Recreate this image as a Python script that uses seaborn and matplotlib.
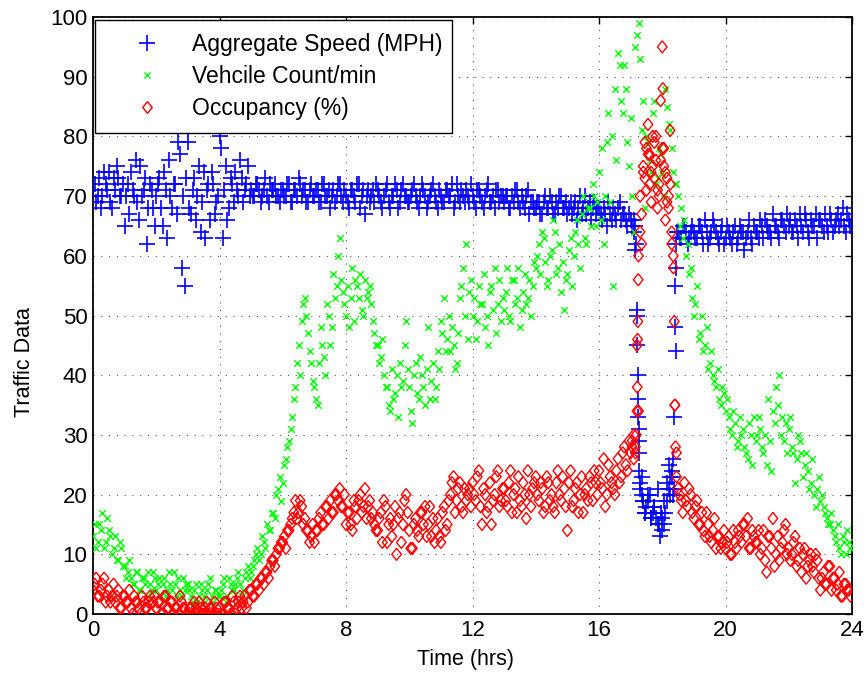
import numpy as np
import matplotlib
matplotlib.use("Agg")
import matplotlib.pyplot as plt
import seaborn as sns
from matplotlib.lines import Line2D

# ---- data ----
hours = np.round(np.arange(240) * 0.1, 2)        # first sampling grid (0.0, 0.1, ...)
hours_b = np.round(np.arange(240) * 0.1 + 0.05, 2)  # second grid (0.05, 0.15, ...)

speed = [
    71, 69, 73, 70, 72, 74, 68, 71, 73, 70,
    65, 72, 74, 70, 69, 75, 71, 62, 72, 68,
    70, 73, 65, 71, 76, 68, 72, 79, 58, 55,
    79, 67, 73, 70, 64, 74, 71, 66, 72, 69,
    80, 63, 75, 68, 72, 74, 70, 73, 71, 75,
    71, 70, 72, 69, 71, 70, 72, 71, 70, 69,
    71, 70, 72, 69, 71, 73, 70, 71, 69, 72,
    70, 71, 69, 72, 70, 68, 71, 70, 72, 69,
    70, 68, 71, 69, 72, 70, 67, 71, 70, 69,
    71, 69, 70, 72, 68, 70, 71, 69, 72, 70,
    69, 71, 70, 68, 72, 70, 69, 71, 70, 68,
    70, 69, 71, 70, 68, 72, 69, 70, 71, 69,
    70, 68, 71, 69, 70, 72, 69, 68, 71, 70,
    69, 70, 68, 69, 71, 68, 69, 70, 67, 69,
    68, 69, 67, 70, 68, 69, 67, 68, 70, 68,
    67, 69, 68, 66, 70, 68, 67, 69, 68, 67,
    68, 66, 67, 69, 66, 67, 68, 66, 67, 65,
    66, 64, 50, 22, 19, 18, 20, 17, 16, 15,
    14, 17, 21, 24, 55, 64, 63, 65, 62, 64,
    64, 63, 65, 62, 64, 63, 66, 64, 62, 65,
    63, 64, 62, 65, 63, 64, 61, 64, 63, 65,
    64, 66, 63, 65, 64, 67, 65, 63, 66, 64,
    65, 64, 66, 63, 65, 67, 64, 66, 65, 63,
    66, 64, 65, 67, 64, 66, 65, 68, 64, 66,
]
speed_b = [
    72, 70, 68, 74, 71, 69, 73, 75, 70, 72,
    70, 67, 71, 76, 66, 70, 73, 68, 71, 65,
    72, 68, 74, 63, 70, 72, 67, 77, 70, 73,
    68, 71, 66, 75, 69, 63, 72, 74, 67, 70,
    78, 71, 66, 73, 69, 71, 76, 69, 72, 70,
    70, 72, 71, 70, 73, 69, 71, 72, 70, 71,
    70, 72, 69, 71, 70, 72, 71, 69, 71, 70,
    71, 69, 72, 70, 71, 70, 69, 72, 70, 71,
    69, 71, 70, 72, 68, 71, 70, 69, 71, 72,
    70, 68, 71, 69, 70, 72, 68, 71, 70, 69,
    70, 72, 69, 70, 71, 68, 70, 72, 69, 71,
    69, 71, 70, 72, 69, 70, 71, 69, 70, 72,
    69, 71, 70, 68, 71, 69, 70, 71, 69, 70,
    70, 68, 70, 71, 69, 70, 68, 71, 69, 68,
    69, 67, 69, 68, 70, 67, 69, 70, 68, 69,
    68, 67, 69, 68, 67, 70, 68, 66, 69, 68,
    67, 68, 65, 67, 68, 66, 69, 67, 66, 67,
    65, 61, 31, 20, 17, 19, 16, 18, 21, 17,
    15, 19, 23, 20, 44, 63, 65, 64, 63, 65,
    63, 65, 64, 66, 62, 64, 65, 63, 64, 62,
    65, 63, 64, 62, 65, 64, 63, 66, 62, 64,
    63, 65, 66, 64, 63, 65, 64, 66, 65, 67,
    66, 64, 65, 67, 64, 66, 63, 65, 67, 66,
    65, 67, 64, 66, 65, 67, 66, 65, 67, 65,
]

count = [
    13, 11, 15, 17, 12, 14, 10, 13, 9, 11,
    8, 7, 6, 5, 7, 4, 6, 3, 5, 7,
    4, 6, 5, 3, 7, 4, 5, 6, 3, 4,
    5, 3, 4, 2, 5, 3, 4, 6, 2, 4,
    3, 5, 2, 6, 4, 5, 7, 3, 6, 8,
    7, 9, 11, 10, 12, 15, 14, 17, 20, 23,
    22, 26, 29, 33, 38, 45, 49, 53, 47, 42,
    38, 35, 48, 43, 52, 45, 57, 55, 63, 54,
    50, 48, 58, 56, 53, 51, 56, 54, 52, 47,
    45, 43, 40, 38, 34, 36, 40, 42, 39, 49,
    38, 32, 42, 36, 40, 35, 48, 39, 36, 44,
    49, 53, 46, 44, 45, 42, 53, 58, 62, 54,
    50, 46, 55, 52, 48, 45, 55, 58, 52, 49,
    51, 58, 49, 56, 53, 48, 54, 52, 56, 55,
    58, 62, 64, 59, 56, 61, 64, 58, 54, 51,
    57, 63, 60, 66, 58, 70, 62, 68, 72, 65,
    74, 78, 70, 84, 80, 88, 94, 86, 92, 79,
    83, 64, 97, 93, 86, 80, 76, 84, 72, 78,
    74, 88, 82, 78, 72, 70, 68, 66, 62, 58,
    50, 55, 47, 44, 48, 42, 40, 38, 36, 38,
    34, 33, 30, 32, 29, 30, 28, 26, 30, 33,
    30, 31, 27, 25, 29, 34, 38, 40, 33, 32,
    31, 28, 22, 30, 27, 25, 24, 22, 20, 21,
    19, 18, 16, 15, 14, 12, 11, 13, 10, 12,
]
count_b = [
    15, 12, 14, 11, 16, 13, 11, 9, 12, 8,
    6, 9, 5, 7, 4, 6, 5, 7, 4, 6,
    5, 3, 6, 4, 5, 7, 3, 4, 6, 5,
    4, 2, 5, 3, 4, 2, 5, 3, 4, 3,
    4, 6, 3, 5, 4, 6, 5, 4, 7, 6,
    8, 10, 9, 13, 11, 14, 17, 16, 21, 19,
    25, 28, 31, 36, 42, 40, 52, 50, 44, 39,
    36, 42, 45, 40, 50, 48, 53, 60, 56, 52,
    55, 53, 49, 55, 57, 50, 53, 55, 49, 45,
    42, 46, 38, 35, 41, 37, 33, 38, 45, 41,
    34, 40, 37, 43, 38, 41, 36, 42, 38, 41,
    47, 44, 50, 48, 41, 47, 55, 50, 46, 56,
    53, 49, 52, 57, 50, 54, 51, 47, 56, 53,
    54, 50, 56, 52, 58, 51, 57, 53, 50, 59,
    60, 57, 63, 55, 60, 66, 57, 62, 59, 56,
    61, 55, 64, 62, 67, 63, 68, 65, 70, 69,
    66, 62, 79, 69, 55, 76, 92, 84, 88, 75,
    70, 95, 99, 81, 68, 79, 74, 86, 73, 77,
    70, 85, 81, 74, 72, 65, 63, 60, 57, 53,
    52, 46, 50, 45, 41, 44, 39, 41, 35, 37,
    36, 31, 34, 28, 33, 31, 27, 32, 25, 29,
    33, 28, 30, 36, 24, 32, 35, 30, 29, 27,
    33, 27, 26, 29, 23, 27, 21, 26, 18, 23,
    20, 17, 15, 17, 13, 15, 10, 12, 14, 11,
]

occupancy = [
    4, 6, 3, 5, 2, 4, 3, 2, 4, 1,
    3, 2, 1, 3, 2, 0, 2, 1, 3, 2,
    1, 2, 0, 3, 1, 2, 1, 0, 2, 1,
    0, 1, 2, 0, 1, 0, 2, 1, 0, 1,
    1, 0, 2, 1, 3, 0, 2, 1, 3, 2,
    4, 3, 5, 6, 5, 7, 8, 9, 10, 11,
    12, 11, 14, 16, 19, 17, 18, 16, 14, 13,
    12, 14, 17, 15, 18, 19, 17, 20, 21, 18,
    15, 17, 14, 18, 19, 17, 21, 18, 16, 15,
    14, 17, 19, 12, 16, 15, 10, 17, 15, 20,
    14, 11, 16, 13, 17, 18, 15, 13, 12, 16,
    12, 18, 15, 20, 23, 19, 22, 17, 19, 21,
    22, 19, 24, 15, 20, 18, 15, 20, 24, 19,
    21, 18, 24, 20, 17, 19, 22, 16, 20, 21,
    23, 19, 21, 18, 22, 20, 17, 24, 19, 21,
    14, 24, 19, 22, 20, 17, 21, 23, 19, 22,
    24, 21, 18, 25, 22, 20, 26, 23, 28, 24,
    27, 30, 45, 70, 75, 78, 72, 80, 76, 70,
    78, 74, 68, 62, 35, 21, 19, 22, 18, 20,
    16, 19, 15, 14, 17, 13, 14, 11, 13, 12,
    11, 13, 10, 12, 14, 12, 15, 16, 11, 13,
    12, 10, 14, 7, 13, 16, 10, 9, 12, 15,
    11, 10, 13, 9, 7, 11, 8, 10, 7, 9,
    4, 7, 5, 8, 6, 4, 7, 3, 5, 4,
]
occupancy_b = [
    5, 3, 4, 6, 3, 2, 5, 3, 1, 3,
    2, 4, 0, 2, 1, 3, 1, 2, 0, 3,
    2, 0, 3, 1, 2, 0, 1, 3, 1, 0,
    1, 0, 1, 2, 0, 1, 0, 1, 2, 0,
    0, 2, 1, 0, 2, 1, 3, 2, 1, 4,
    3, 5, 4, 6, 7, 6, 9, 8, 11, 12,
    13, 14, 15, 17, 16, 19, 15, 14, 12, 15,
    14, 16, 15, 18, 16, 17, 20, 19, 18, 20,
    17, 15, 19, 16, 20, 18, 16, 19, 17, 14,
    16, 12, 18, 15, 13, 18, 16, 12, 19, 17,
    11, 15, 14, 17, 15, 13, 18, 16, 14, 13,
    17, 14, 19, 22, 17, 21, 18, 21, 20, 18,
    20, 23, 18, 21, 17, 22, 19, 23, 18, 21,
    19, 22, 17, 21, 23, 18, 20, 24, 18, 22,
    20, 22, 17, 23, 19, 18, 22, 20, 23, 18,
    22, 18, 21, 17, 23, 20, 19, 22, 24, 20,
    22, 26, 20, 23, 21, 24, 22, 27, 25, 29,
    28, 27, 34, 62, 73, 77, 74, 79, 71, 76,
    75, 69, 72, 58, 27, 20, 17, 19, 21, 17,
    18, 15, 17, 13, 15, 12, 16, 13, 11, 14,
    12, 10, 14, 11, 13, 15, 13, 11, 14, 12,
    14, 11, 9, 13, 11, 8, 13, 11, 14, 10,
    9, 12, 8, 11, 10, 6, 9, 8, 10, 6,
    6, 5, 8, 4, 6, 5, 3, 5, 4, 3,
]

# extra readings around the evening incident (17-18.5 h)
speed_extra_t = [17.12, 17.15, 17.18, 17.2, 17.21, 17.22, 17.23, 17.24, 17.25, 17.26,
                 17.28, 17.3, 17.35, 17.4, 17.45, 17.55, 17.65, 17.75, 17.85, 17.92,
                 17.98, 18.05, 18.15, 18.2, 18.25, 18.3, 18.33, 18.36, 18.38, 18.4,
                 18.42, 18.44, 18.47]
speed_extra = [66, 65, 62, 51, 45, 40, 36, 33, 29, 27,
               24, 21, 23, 19, 17, 20, 16, 18, 15, 13,
               16, 19, 22, 25, 20, 23, 26, 21, 33, 48,
               58, 62, 64]

occ_extra_t = [17.05, 17.1, 17.15, 17.18, 17.2, 17.21, 17.22, 17.23, 17.24, 17.25,
               17.3, 17.35, 17.4, 17.45, 17.5, 17.55, 17.6, 17.65, 17.7, 17.75,
               17.8, 17.85, 17.9, 17.95, 18.0, 18.02, 18.05, 18.1, 18.15, 18.2,
               18.25, 18.3, 18.35, 18.38, 18.4, 18.42, 18.45]
occ_extra = [29, 26, 28, 30, 34, 38, 46, 49, 56, 60,
             64, 67, 74, 79, 71, 82, 77, 69, 75, 73,
             80, 68, 72, 86, 95, 88, 78, 66, 73, 70,
             81, 64, 60, 49, 35, 28, 23]

labels = ["Aggregate Speed (MPH)", "Vehcile Count/min", "Occupancy (%)"]
xticks = [0, 4, 8, 12, 16, 20, 24]
yticks = list(range(0, 101, 10))

# ---- styling ----
sns.set_theme(style="white")
plt.rcParams["font.family"] = ["Liberation Sans", "DejaVu Sans"]
plt.rcParams["font.size"] = 16
plt.rcParams["text.color"] = "black"
plt.rcParams["axes.labelcolor"] = "black"
plt.rcParams["xtick.color"] = "black"
plt.rcParams["ytick.color"] = "black"

# MATLAB-style diamond (slightly taller than wide)
diamond = [(0, 1), (0.8, 0), (0, -1), (-0.8, 0), (0, 1)]

fig = plt.figure(figsize=(8.67, 6.76), dpi=100)
ax = fig.add_axes([93 / 867, 62 / 676, 759 / 867, 597 / 676])

t_speed = np.concatenate([hours, hours_b, speed_extra_t])
v_speed = np.concatenate([speed, speed_b, speed_extra])
t_count = np.concatenate([hours, hours_b])
v_count = np.concatenate([count, count_b])
t_occ = np.concatenate([hours, hours_b, occ_extra_t])
v_occ = np.concatenate([occupancy, occupancy_b, occ_extra])

sns.scatterplot(x=t_speed, y=v_speed, ax=ax, marker="+", color="#0000ff",
                s=125, linewidth=1.2, zorder=3)
sns.scatterplot(x=t_count, y=v_count, ax=ax, marker="x", color="#00ff00",
                s=22, linewidth=1.0, zorder=4)
sns.scatterplot(x=t_occ, y=v_occ, ax=ax, marker=diamond, color="#ff0000",
                s=75, linewidth=1.0, zorder=5)
occ_pts = ax.collections[-1]
occ_pts.set_facecolor("none")
occ_pts.set_edgecolor("#ff0000")
occ_pts.set_linewidth(1.0)

ax.set_xlim(0, 24)
ax.set_ylim(0, 100)
ax.set_xticks(xticks)
ax.set_yticks(yticks)
ax.set_xlabel("Time (hrs)", fontsize=15.5, color="black")
ax.set_ylabel("Traffic Data", fontsize=15.5, color="black")
ax.xaxis.set_label_coords(0.491, -0.058)
ax.yaxis.set_label_coords(-0.077, 0.422)
ax.tick_params(axis="both", which="both", direction="in", length=5, width=1,
               top=True, right=True, labelsize=16, pad=4, colors="black",
               labelcolor="black")
ax.grid(True, color="0.35", linestyle=(0, (1, 6)), linewidth=0.8)
for sp in ax.spines.values():
    sp.set_visible(True)
    sp.set_color("black")
    sp.set_linewidth(1.3)

handles = [
    Line2D([], [], linestyle="none", marker="+", color="#0000ff", markersize=12, markeredgewidth=1.2),
    Line2D([], [], linestyle="none", marker="x", color="#00ff00", markersize=4, markeredgewidth=1.0),
    Line2D([], [], linestyle="none", marker=diamond, markerfacecolor="none", markeredgecolor="#ff0000",
           markersize=8.5, markeredgewidth=1.0),
]
leg = ax.legend(handles, labels, loc="upper left",
                bbox_to_anchor=(0.0026, 0.995, 0.470, 0.0), mode="expand",
                fontsize=16.5, frameon=True, fancybox=False, framealpha=1,
                edgecolor="black", borderpad=0.55, handlelength=3.4,
                handletextpad=0.3, labelspacing=0.4, borderaxespad=0.0)
leg.get_frame().set_linewidth(1.0)
leg.set_zorder(10)
for txt in leg.get_texts():
    txt.set_color("black")

fig.savefig("out.png", dpi=100)
